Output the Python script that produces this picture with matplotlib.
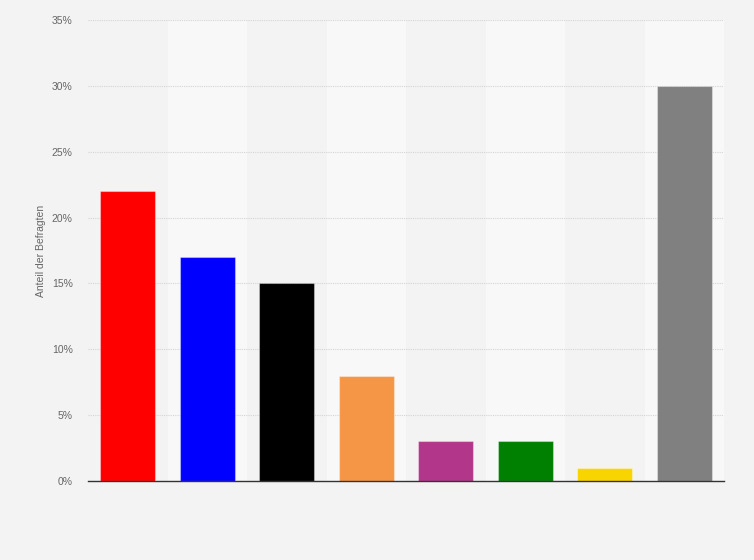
import matplotlib
matplotlib.use("Agg")
import matplotlib.pyplot as plt
from matplotlib.ticker import FuncFormatter, MultipleLocator

plt.rcParams["font.family"] = ["Liberation Sans", "DejaVu Sans"]

categories = ["SPD", "Union", "AfD", "Linke", "Grüne", "Grüne2", "FDP", "Sonstige"]
values = [22, 17, 15, 8, 3, 3, 1, 30]
colors = ["#ff0000", "#0000ff", "#000000", "#f59646", "#b2368a", "#008000", "#f8d500", "#808080"]
ylabel = "Anteil der Befragten"

fig = plt.figure(figsize=(7.54, 5.6), dpi=100, facecolor="#f3f3f3")
ax = fig.add_axes([88/754, 79/560, (724-88)/754, (481-20)/560])
ax.set_facecolor("#f3f3f3")

x = list(range(len(categories)))
for i in x:
    if i % 2 == 1:
        ax.axvspan(i - 0.5, i + 0.5, color="#f8f8f8", zorder=0, lw=0)

ax.bar(x, values, width=0.69, color=colors, edgecolor=[(1, 1, 1, 0.35)] * len(values),
       linewidth=0.8, zorder=3)

ax.set_xlim(-0.5, len(categories) - 0.5)
ax.set_ylim(0, 35)
ax.yaxis.set_major_locator(MultipleLocator(5))
ax.yaxis.set_major_formatter(FuncFormatter(lambda v, p: f"{int(v)}%"))
ax.set_xticks([])
ax.tick_params(axis="y", length=0, pad=11, labelsize=7.5, labelcolor="#666666")
ax.grid(axis="y", color="#d4d4d4", linestyle=(0, (1, 1)), linewidth=0.8, zorder=1)
for s in ["top", "right", "left"]:
    ax.spines[s].set_visible(False)
ax.spines["bottom"].set_color("#333333")
ax.spines["bottom"].set_linewidth(1.0)
ax.spines["bottom"].set_zorder(4)
ax.set_ylabel(ylabel, fontsize=7.5, color="#666666", labelpad=4)

fig.savefig("out.png", dpi=100, facecolor=fig.get_facecolor())
